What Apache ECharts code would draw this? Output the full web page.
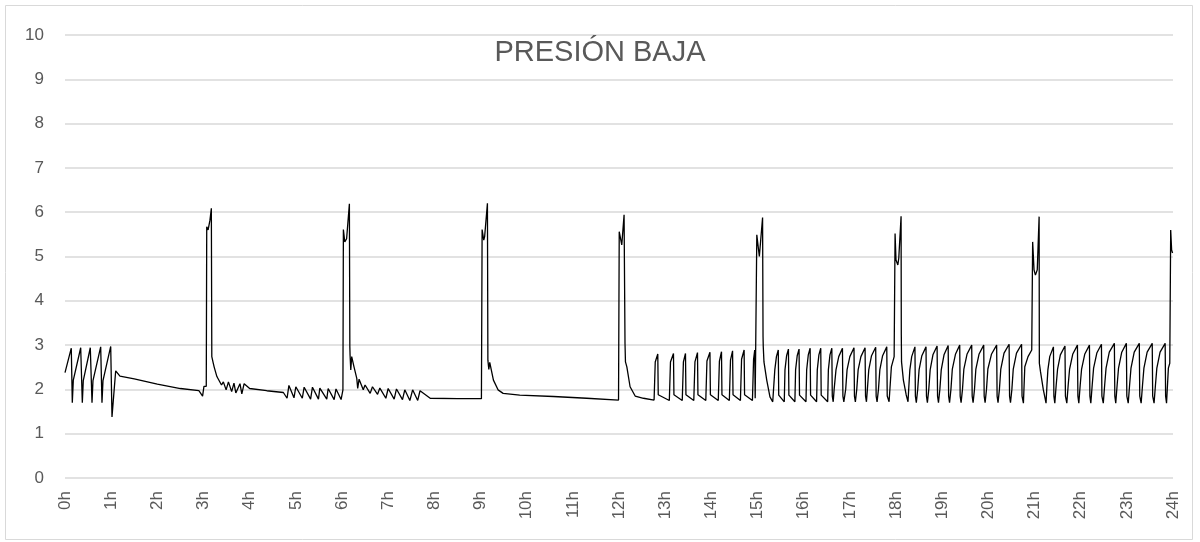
<!DOCTYPE html>
<html>
<head>
<meta charset="utf-8">
<script src="https://cdn.jsdelivr.net/npm/echarts@6/dist/echarts.min.js"></script>
<style>
  html, body { margin: 0; padding: 0; background: #fff; }
  #grafico { width: 1200px; height: 542px; }
</style>
</head>
<body>
<div id="grafico"></div>
<script>
// horas del eje x
var horas = [0, 1, 2, 3, 4, 5, 6, 7, 8, 9, 10, 11, 12, 13, 14, 15, 16, 17, 18, 19, 20, 21, 22, 23, 24];
var ticksY = [0, 1, 2, 3, 4, 5, 6, 7, 8, 9, 10];

// tramos de la curva [hora, presión]
var arranque = [[0.0,2.38],[0.136,2.93],[0.158,1.70],[0.18,2.21],[0.34,2.94],[0.375,1.70],[0.396,2.2],[0.548,2.94],[0.585,1.70],[0.606,2.2],[0.773,2.96],[0.801,1.70],[0.823,2.2],[0.99,2.97],[1.018,1.38],[1.098,2.42],[1.19,2.30],[1.5,2.24],[2.0,2.12],[2.5,2.02],[2.9,1.97],[2.98,1.85],[3.01,2.07],[3.06,2.07]];
var pico3h = [[3.07,5.67],[3.10,5.60],[3.14,5.82],[3.17,6.09],[3.18,2.74],[3.21,2.60],[3.23,2.51],[3.29,2.29],[3.32,2.27],[3.39,2.10],[3.43,2.17],[3.49,1.99],[3.54,2.17],[3.61,1.95],[3.66,2.14],[3.70,1.92],[3.79,2.13],[3.83,1.90],[3.88,2.13],[4.0,2.02],[4.37,1.97],[4.73,1.93]];
var ciclos5h = [[4.81,1.80],[4.85,2.09],[4.96,1.81],[5.0,2.06],[5.14,1.80],[5.18,2.05],[5.32,1.78],[5.36,2.05],[5.49,1.78],[5.52,2.03],[5.67,1.78],[5.70,2.02],[5.83,1.77],[5.87,2.01],[5.98,1.77],[6.02,1.99]];
var pico6h = [[6.03,5.61],[6.06,5.33],[6.10,5.40],[6.16,6.19],[6.17,2.96],[6.175,2.77],[6.19,2.44],[6.21,2.74],[6.26,2.51],[6.32,2.25],[6.34,2.02],[6.37,2.23],[6.46,1.99],[6.50,2.10],[6.61,1.91],[6.66,2.06],[6.77,1.89],[6.82,2.03],[6.95,1.80],[7.0,2.02],[7.13,1.78],[7.18,2.01],[7.31,1.77],[7.36,1.99],[7.47,1.75],[7.53,1.99],[7.64,1.75],[7.69,1.97],[7.91,1.80],[8.5,1.79],[9.02,1.79]];
var pico9h = [[9.035,5.61],[9.07,5.37],[9.09,5.45],[9.15,6.20],[9.16,2.66],[9.18,2.45],[9.20,2.61],[9.28,2.21],[9.38,1.99],[9.49,1.91],[9.85,1.87],[10.58,1.84],[11.30,1.80],[11.99,1.76]];
var pico12h = [[12.005,5.56],[12.06,5.26],[12.11,5.94],[12.13,3.04],[12.14,2.62],[12.17,2.51],[12.24,2.06],[12.35,1.85],[12.53,1.80],[12.76,1.76]];
var ciclos13h = [[12.785,2.62],[12.84,2.80],[12.85,1.88],[13.09,1.75],[13.115,2.62],[13.18,2.81],[13.19,1.88],[13.37,1.75],[13.395,2.62],[13.44,2.81],[13.45,1.88],[13.62,1.75],[13.645,2.62],[13.70,2.83],[13.71,1.88],[13.88,1.75],[13.905,2.64],[13.97,2.84],[13.98,1.88],[14.15,1.75],[14.175,2.64],[14.22,2.85],[14.23,1.88],[14.39,1.75],[14.415,2.66],[14.46,2.87],[14.47,1.88],[14.63,1.75],[14.655,2.68],[14.71,2.89],[14.72,1.88],[14.89,1.75],[14.915,2.68],[14.94,2.89],[14.95,1.80],[14.975,1.78]];
var pico15h = [[14.985,5.49],[15.04,5.0],[15.05,5.04],[15.11,5.88],[15.12,3.19],[15.125,2.96],[15.14,2.62],[15.20,2.21],[15.27,1.83],[15.33,1.72]];
var ciclos16h = [[15.36,1.72],[15.375,2.44],[15.41,2.74],[15.45,2.89],[15.46,1.87],
  [15.58,1.72],[15.595,2.44],[15.63,2.76],[15.67,2.91],[15.68,1.87],
  [15.81,1.72],[15.825,2.44],[15.86,2.76],[15.90,2.91],[15.91,1.87],
  [16.05,1.72],[16.065,2.44],[16.10,2.78],[16.14,2.93],[16.15,1.87],
  [16.28,1.72],[16.295,2.44],[16.33,2.78],[16.37,2.93],[16.38,1.87],
  [16.52,1.72],[16.535,2.44],[16.57,2.78],[16.61,2.93],[16.62,1.85],[16.64,1.72],
  [16.66,2.0],[16.70,2.44],[16.76,2.74],[16.84,2.93],[16.85,1.85],[16.87,1.72],
  [16.91,2.0],[16.94,2.44],[17.0,2.74],[17.09,2.94],[17.10,1.85],[17.12,1.72],
  [17.15,2.0],[17.18,2.44],[17.24,2.74],[17.33,2.94],[17.34,1.85],[17.36,1.72],
  [17.38,2.0],[17.41,2.44],[17.47,2.76],[17.56,2.95],[17.57,1.85],[17.59,1.72],
  [17.62,2.0],[17.65,2.44],[17.71,2.76],[17.80,2.96],[17.81,1.85],[17.85,1.72],
  [17.90,2.51],[17.96,2.74]];
var pico18h = [[17.98,5.52],[18.0,4.92],[18.04,4.81],[18.06,4.96],[18.11,5.91],[18.115,3.23],[18.12,2.62],[18.16,2.21],[18.22,1.88],[18.26,1.72]];
var ciclos19h = [[18.28,2.1],[18.30,2.44],[18.34,2.74],[18.41,2.96],[18.42,1.85],[18.44,1.70],
  [18.47,2.0],[18.50,2.44],[18.56,2.76],[18.65,2.96],[18.66,1.85],[18.68,1.70],
  [18.71,2.0],[18.74,2.44],[18.80,2.78],[18.89,2.98],[18.90,1.85],[18.92,1.70],
  [18.95,2.0],[18.98,2.44],[19.04,2.78],[19.13,2.99],[19.14,1.85],[19.16,1.70],
  [19.19,2.0],[19.22,2.46],[19.29,2.80],[19.38,3.0],[19.39,1.85],[19.41,1.70],
  [19.44,2.0],[19.47,2.46],[19.54,2.80],[19.64,3.0],[19.65,1.85],[19.67,1.70],
  [19.70,2.0],[19.73,2.46],[19.80,2.80],[19.90,3.0],[19.91,1.85],[19.93,1.70],
  [19.96,2.0],[19.99,2.46],[20.07,2.80],[20.18,3.0],[20.19,1.85],[20.21,1.70],
  [20.24,2.0],[20.27,2.46],[20.34,2.82],[20.45,3.02],[20.46,1.85],[20.48,1.70],
  [20.51,2.0],[20.54,2.46],[20.61,2.82],[20.72,3.02],[20.73,1.85],[20.76,1.69],
  [20.79,2.51],[20.86,2.74],[20.94,2.89]];
var pico21h = [[20.96,5.33],[20.99,4.70],[21.02,4.58],[21.06,4.70],[21.10,5.90],[21.105,2.59],[21.13,2.40],[21.19,2.0],[21.25,1.69]];
var ciclos22h = [[21.27,2.1],[21.29,2.44],[21.33,2.74],[21.41,2.96],[21.42,1.85],[21.44,1.69],
  [21.47,2.1],[21.50,2.46],[21.56,2.78],[21.66,2.98],[21.67,1.85],[21.70,1.69],
  [21.73,2.1],[21.76,2.46],[21.83,2.80],[21.93,3.0],[21.94,1.85],[21.96,1.69],
  [21.99,2.1],[22.02,2.46],[22.09,2.80],[22.19,3.0],[22.20,1.85],[22.22,1.69],
  [22.25,2.1],[22.28,2.48],[22.35,2.82],[22.45,3.02],[22.46,1.85],[22.49,1.69],
  [22.52,2.1],[22.55,2.48],[22.62,2.84],[22.73,3.04],[22.74,1.85],[22.76,1.69],
  [22.79,2.1],[22.82,2.48],[22.89,2.84],[22.99,3.04],[23.0,1.85],[23.03,1.69],
  [23.06,2.1],[23.09,2.48],[23.16,2.84],[23.27,3.04],[23.28,1.85],[23.31,1.69],
  [23.34,2.1],[23.37,2.48],[23.44,2.84],[23.55,3.04],[23.56,1.85],[23.59,1.69],
  [23.62,2.1],[23.65,2.48],[23.72,2.84],[23.83,3.04],[23.84,1.85],[23.86,1.69]];
var final24h = [[23.90,2.48],[23.93,2.59],[23.95,5.6],[23.97,5.15],[23.99,5.08]];

var presion = [].concat(arranque, pico3h, ciclos5h, pico6h, pico9h, pico12h, ciclos13h,
  pico15h, ciclos16h, pico18h, ciclos19h, pico21h, ciclos22h, final24h);

var gris = '#595959';
var fuente = 'Liberation Sans';

var chartDom = document.getElementById('grafico');
var myChart = echarts.init(chartDom);
var option = {
  animation: false,
  backgroundColor: '#fff',
  title: {
    text: 'PRESIÓN BAJA',
    left: 'center',
    top: 33,
    textStyle: { color: gris, fontSize: 29, fontWeight: 'normal', fontFamily: fuente }
  },
  graphic: [{
    type: 'rect',
    shape: { x: 5.5, y: 5.5, width: 1187, height: 534 },
    style: { fill: 'none', stroke: '#d9d9d9', lineWidth: 1 },
    silent: true
  }],
  grid: { left: 65, right: 27, top: 35, bottom: 64 },
  xAxis: {
    type: 'value',
    min: horas[0],
    max: horas[horas.length - 1],
    interval: 1,
    axisLine: { show: false },
    axisTick: { show: false },
    splitLine: { show: false },
    axisLabel: {
      rotate: 90,
      margin: 13,
      color: gris,
      fontSize: 17,
      fontFamily: fuente,
      formatter: function (v) { return v + 'h'; }
    }
  },
  yAxis: {
    type: 'value',
    min: ticksY[0],
    max: ticksY[ticksY.length - 1],
    interval: 1,
    axisLine: { show: false },
    axisTick: { show: false },
    splitLine: { lineStyle: { color: '#d9d9d9', width: 1.5 } },
    axisLabel: { margin: 21, color: gris, fontSize: 17, fontFamily: fuente }
  },
  series: [{
    name: 'Presión baja',
    type: 'line',
    data: presion,
    showSymbol: false,
    sampling: null,
    lineStyle: { color: '#000', width: 1.3 },
    itemStyle: { color: '#000' }
  }]
};
myChart.setOption(option);
</script>
</body>
</html>
